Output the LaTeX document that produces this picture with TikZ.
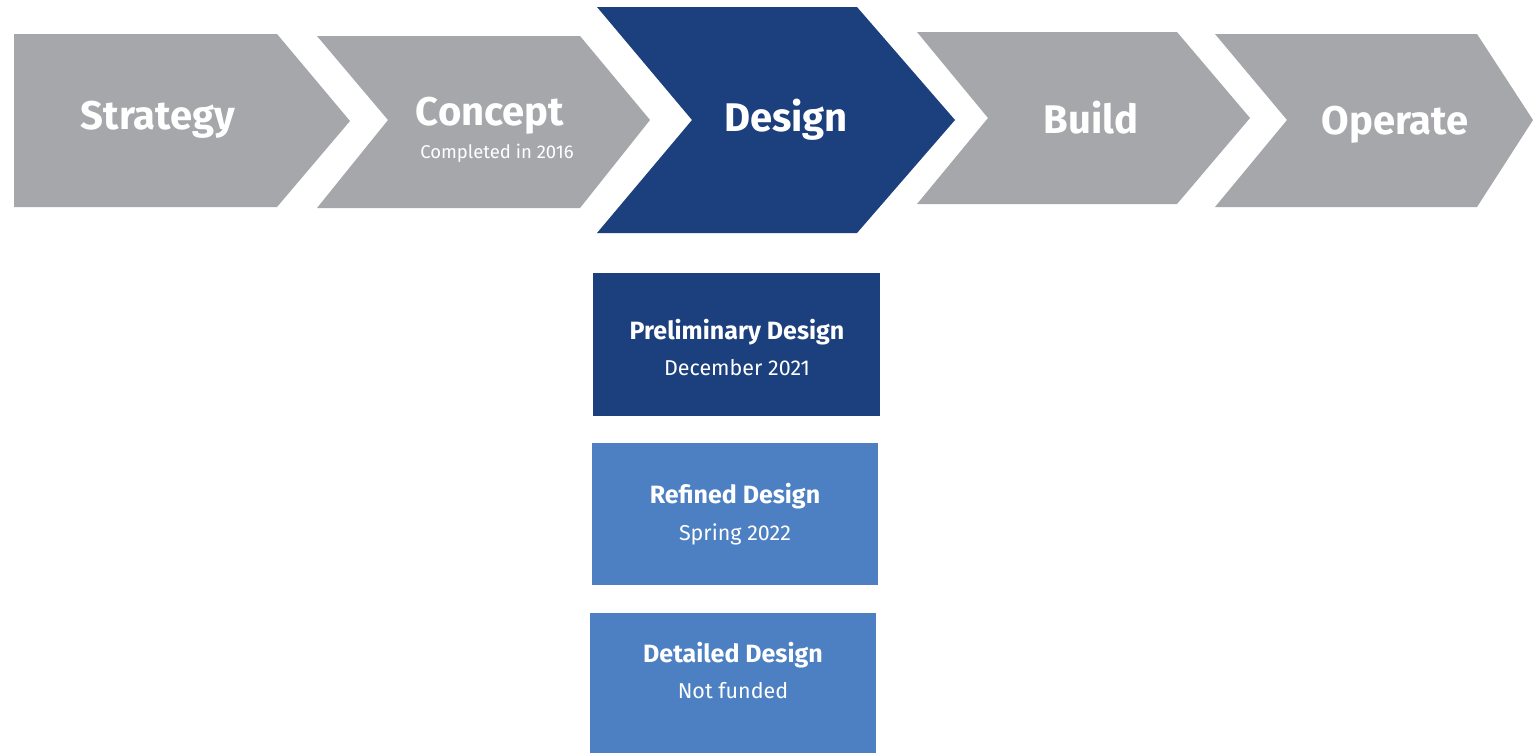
\documentclass[tikz,border=0pt]{standalone}
\usepackage{fontspec}
\setmainfont{Fira Sans}
\usepackage{tikz}
\usetikzlibrary{positioning}
\definecolor{phasegrey}{HTML}{A6A7AB}
\definecolor{phasedark}{HTML}{1C3F7D}
\definecolor{phaselight}{HTML}{4C80C2}

\begin{document}
\begin{tikzpicture}[x=1pt,y=-1pt]
\tikzstyle{every node}+=[inner sep=0pt,text=white,anchor=base]
\tikzstyle{phasetext}=[font=\fontsize{40}{44}\selectfont\bfseries]
\tikzstyle{stepbox}=[anchor=center,minimum width=287pt,minimum height=143pt]
\tikzstyle{boxtitle}=[font=\fontsize{25}{28}\selectfont\bfseries]
\tikzstyle{boxdate}=[font=\fontsize{21.5}{24}\selectfont]
\useasboundingbox [fill=white] (0,0) rectangle (1534,753);
% phase chevrons
\fill [phasegrey] (14,34) -- (277,34) -- (350,121) -- (277,207) -- (14,207) -- cycle;
\fill [phasegrey] (317,36) -- (580,36) -- (650,120) -- (580,208) -- (317,208) -- (388,120) -- cycle;
\fill [phasedark] (597,7) -- (857,7) -- (955,120) -- (857,233) -- (597,233) -- (692,120) -- cycle;
\fill [phasegrey] (917,32) -- (1177,32) -- (1250,118) -- (1177,204) -- (917,204) -- (988,118) -- cycle;
\fill [phasegrey] (1215,34) -- (1477,34) -- (1533,120) -- (1477,207) -- (1215,207) -- (1287,120) -- cycle;
\node [phasetext] (strategy) at (158,129) {Strategy};
\node [phasetext] (concept) at (490,125) {Concept};
\node [font=\fontsize{18.5}{20}\selectfont] (completed) at (497,158) {Completed in 2016};
\node [phasetext] (design) at (786,131) {Design};
\node [phasetext] (build) at (1091,133) {Build};
\node [phasetext] (operate) at (1395,134) {Operate};
% design stages
\node [stepbox,fill=phasedark] (prelim) at (736.5,344.5) {};
\node [boxtitle] (prelimtitle) at (737,339) {Preliminary Design};
\node [boxdate] (prelimdate) at (737,375) {December 2021};
\node [stepbox,fill=phaselight,minimum width=286pt,minimum height=142pt] (refined) at (735,514) {};
\node [boxtitle] (refinedtitle) at (735,503) {Refined Design};
\node [boxdate] (refineddate) at (735,540) {Spring 2022};
\node [stepbox,fill=phaselight,minimum width=286pt,minimum height=140pt] (detailed) at (733,683) {};
\node [boxtitle] (detailedtitle) at (733,662) {Detailed Design};
\node [boxdate] (detaileddate) at (733,698) {Not funded};
\end{tikzpicture}
\end{document}
